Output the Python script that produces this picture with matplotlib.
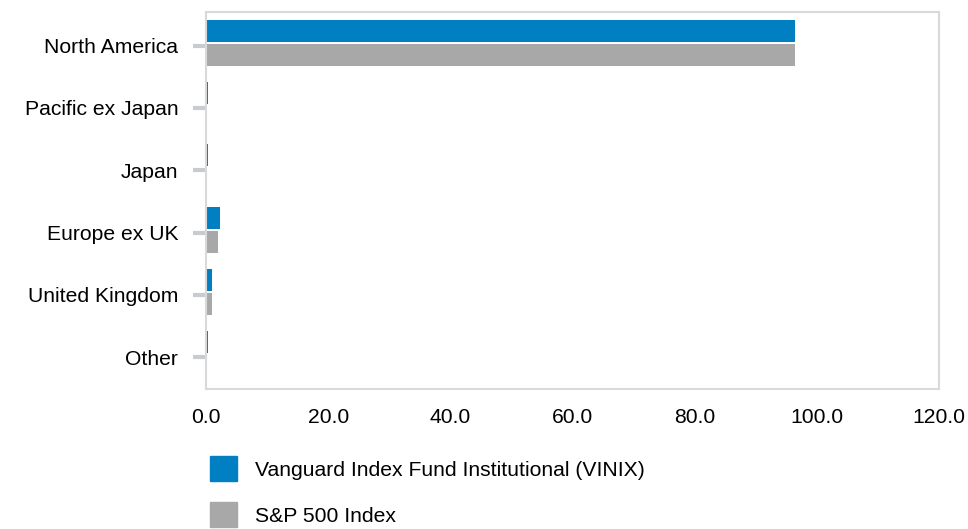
import numpy as np
import matplotlib.pyplot as plt
from matplotlib.patches import Patch

plt.rcParams['font.family'] = ['Liberation Sans', 'DejaVu Sans']

regions = ['North America', 'Pacific ex Japan', 'Japan', 'Europe ex UK', 'United Kingdom', 'Other']
fund = [96.5, 0.4, 0.4, 2.3, 1.0, 0.4]
index = [96.5, 0.0, 0.0, 2.0, 1.0, 0.0]
series_names = ['Vanguard Index Fund Institutional (VINIX)', 'S&P 500 Index']

blue = '#0080c3'
grey = '#a8a8a8'
fs = 15.2

fig = plt.figure(figsize=(9.68, 5.29), dpi=100)
ax = fig.add_axes([206 / 968, 1 - 389 / 529, 733 / 968, 377 / 529])

y = np.arange(len(regions))
h = 0.35
ax.barh(y - 0.24, fund, height=h, color=blue, linewidth=0)
ax.barh(y + 0.147, index, height=h, color=grey, linewidth=0)

ax.set_xlim(0, 120)
ax.set_ylim(5.51, -0.54)
ax.set_xticks(np.arange(0, 121, 20))
ax.set_xticklabels([f'{v:.1f}' for v in np.arange(0, 121, 20)])
ax.set_yticks(y)
ax.set_yticklabels(regions)

for s in ax.spines.values():
    s.set_color('#d9d9d9')
    s.set_linewidth(1.5)
ax.tick_params(axis='y', length=9.4, width=3, color='#c8cbd0', labelsize=fs, pad=10.5)
ax.tick_params(axis='x', length=0, labelsize=fs, pad=13.5)

handles = [Patch(color=blue), Patch(color=grey)]
fig.legend(handles, series_names, loc='upper left', bbox_to_anchor=(206 / 968, 1 - 452 / 529),
           frameon=False, fontsize=fs, handlelength=1.25, handleheight=1.45,
           labelspacing=1.0, handletextpad=0.85, borderaxespad=0, borderpad=0.2)

fig.savefig('out.png', dpi=100)
